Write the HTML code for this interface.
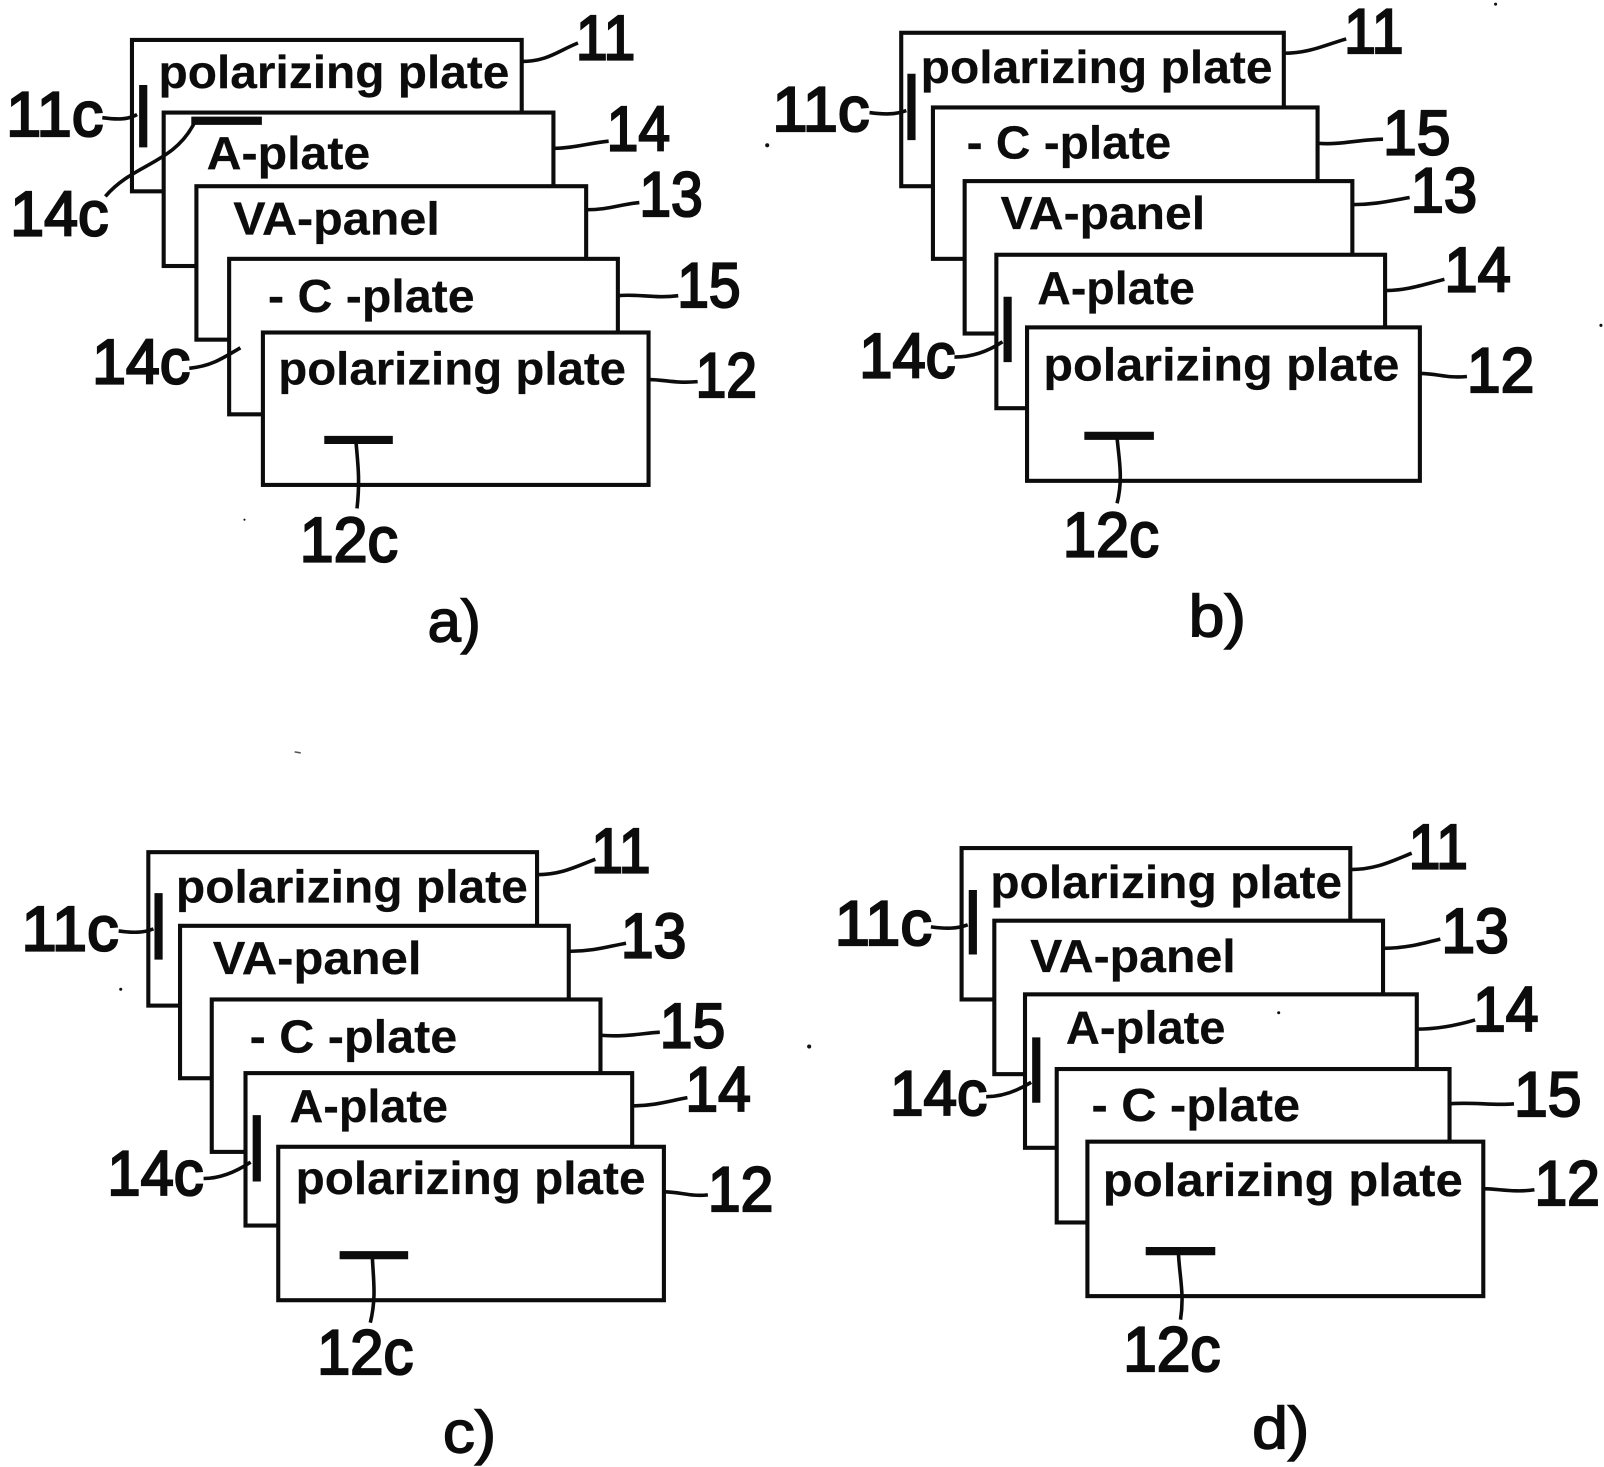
<!DOCTYPE html>
<html><head><meta charset="utf-8"><style>
html,body{margin:0;padding:0;background:#fff}
svg{display:block}
text{font-family:"Liberation Sans",sans-serif;font-weight:normal;fill:#0c0c0c}
.p{font-size:45px;font-weight:bold;stroke:#0c0c0c;stroke-width:.2px}
.n{font-size:62px;stroke:#0c0c0c;stroke-width:2.2px}
.s{font-size:58px;stroke:#0c0c0c;stroke-width:1.4px}
rect{fill:#fff;stroke:#0c0c0c;stroke-width:4}
.l{fill:none;stroke:#0c0c0c;stroke-width:3.5}
.b{fill:none;stroke:#0c0c0c;stroke-width:8;stroke-linecap:butt}
</style></head><body>
<svg width="1604" height="1467" viewBox="0 0 1568 1434" xmlns="http://www.w3.org/2000/svg">
<rect style="fill:#fff;stroke:none" x="0" y="0" width="1568" height="1434"/>

<!-- panel a -->
<rect x="129" y="39" width="381" height="148"/>
<line class="b" x1="140" y1="83" x2="140" y2="144"/>
<rect x="160" y="110" width="381" height="150"/>
<line class="b" x1="187" y1="118" x2="256" y2="118"/>
<rect x="192" y="182" width="381" height="150"/>
<rect x="224" y="253" width="380" height="152"/>
<rect x="257" y="325" width="377" height="149"/>
<line class="b" x1="317" y1="430" x2="384" y2="430"/>
<text class="p" x="155" y="86" textLength="343" lengthAdjust="spacingAndGlyphs">polarizing plate</text>
<text class="p" x="202" y="165" textLength="160" lengthAdjust="spacingAndGlyphs">A-plate</text>
<text class="p" x="228" y="229" textLength="202" lengthAdjust="spacingAndGlyphs">VA-panel</text>
<text class="p" x="262" y="305" textLength="202" lengthAdjust="spacingAndGlyphs">- C -plate</text>
<text class="p" x="272" y="376" textLength="340" lengthAdjust="spacingAndGlyphs">polarizing plate</text>
<path class="l" d="M510 60C535 60 545 50 565 42"/>
<path class="l" d="M541 145C560 145 575 140 595 138"/>
<path class="l" d="M573 205C595 205 605 200 625 198"/>
<path class="l" d="M604 289C625 287 640 292 663 289"/>
<path class="l" d="M634 371C650 371 660 375 682 373"/>
<path class="l" d="M100 115C115 117 125 117 134 112"/>
<path class="l" d="M190 120C170 160 130 160 103 192"/>
<path class="l" d="M185 360C205 358 215 352 235 340"/>
<path class="l" d="M348 432C350 455 352 470 349 497"/>
<text class="n" x="563" y="58" textLength="58" lengthAdjust="spacingAndGlyphs">11</text>
<text class="n" x="593" y="147" textLength="62" lengthAdjust="spacingAndGlyphs">14</text>
<text class="n" x="625" y="211" textLength="62" lengthAdjust="spacingAndGlyphs">13</text>
<text class="n" x="662" y="300" textLength="62" lengthAdjust="spacingAndGlyphs">15</text>
<text class="n" x="680" y="388" textLength="60" lengthAdjust="spacingAndGlyphs">12</text>
<text class="n" x="6" y="133" textLength="95" lengthAdjust="spacingAndGlyphs">11c</text>
<text class="n" x="10" y="230" textLength="96" lengthAdjust="spacingAndGlyphs">14c</text>
<text class="n" x="90" y="375" textLength="96" lengthAdjust="spacingAndGlyphs">14c</text>
<text class="n" x="293" y="549" textLength="96" lengthAdjust="spacingAndGlyphs">12c</text>
<text class="s" x="418" y="627" textLength="52" lengthAdjust="spacingAndGlyphs">a)</text>

<!-- panel b -->
<rect x="881" y="32" width="374" height="150"/>
<line class="b" x1="891" y1="72" x2="891" y2="137"/>
<rect x="912" y="105" width="376" height="148"/>
<rect x="943" y="177" width="379" height="149"/>
<rect x="974" y="249" width="380" height="150"/>
<line class="b" x1="985" y1="290" x2="985" y2="354"/>
<rect x="1004" y="320" width="384" height="150"/>
<line class="b" x1="1060" y1="426" x2="1128" y2="426"/>
<text class="p" x="900" y="81" textLength="344" lengthAdjust="spacingAndGlyphs">polarizing plate</text>
<text class="p" x="945" y="155" textLength="200" lengthAdjust="spacingAndGlyphs">- C -plate</text>
<text class="p" x="978" y="224" textLength="200" lengthAdjust="spacingAndGlyphs">VA-panel</text>
<text class="p" x="1014" y="297" textLength="154" lengthAdjust="spacingAndGlyphs">A-plate</text>
<text class="p" x="1020" y="372" textLength="348" lengthAdjust="spacingAndGlyphs">polarizing plate</text>
<path class="l" d="M1255 52C1280 52 1295 44 1316 38"/>
<path class="l" d="M1288 140C1310 142 1330 136 1352 136"/>
<path class="l" d="M1322 200C1345 200 1360 196 1378 193"/>
<path class="l" d="M1354 284C1375 284 1392 278 1412 273"/>
<path class="l" d="M1388 365C1405 365 1415 370 1434 368"/>
<path class="l" d="M850 110C865 112 875 112 886 108"/>
<path class="l" d="M933 349C950 349 965 344 980 334"/>
<path class="l" d="M1092 428C1094 450 1098 468 1092 492"/>
<text class="n" x="1314" y="52" textLength="58" lengthAdjust="spacingAndGlyphs">11</text>
<text class="n" x="1352" y="151" textLength="66" lengthAdjust="spacingAndGlyphs">15</text>
<text class="n" x="1379" y="207" textLength="65" lengthAdjust="spacingAndGlyphs">13</text>
<text class="n" x="1412" y="285" textLength="65" lengthAdjust="spacingAndGlyphs">14</text>
<text class="n" x="1434" y="383" textLength="66" lengthAdjust="spacingAndGlyphs">12</text>
<text class="n" x="755" y="128" textLength="95" lengthAdjust="spacingAndGlyphs">11c</text>
<text class="n" x="840" y="369" textLength="94" lengthAdjust="spacingAndGlyphs">14c</text>
<text class="n" x="1039" y="544" textLength="94" lengthAdjust="spacingAndGlyphs">12c</text>
<text class="s" x="1162" y="622" textLength="56" lengthAdjust="spacingAndGlyphs">b)</text>

<!-- panel c -->
<rect x="145" y="833" width="380" height="150"/>
<line class="b" x1="155" y1="873" x2="155" y2="938"/>
<rect x="176" y="905" width="380" height="149"/>
<rect x="207" y="977" width="380" height="149"/>
<rect x="240" y="1049" width="378" height="149"/>
<line class="b" x1="251" y1="1090" x2="251" y2="1155"/>
<rect x="272" y="1121" width="377" height="150"/>
<line class="b" x1="332" y1="1227" x2="399" y2="1227"/>
<text class="p" x="172" y="882" textLength="344" lengthAdjust="spacingAndGlyphs">polarizing plate</text>
<text class="p" x="208" y="952" textLength="204" lengthAdjust="spacingAndGlyphs">VA-panel</text>
<text class="p" x="244" y="1029" textLength="203" lengthAdjust="spacingAndGlyphs">- C -plate</text>
<text class="p" x="283" y="1097" textLength="155" lengthAdjust="spacingAndGlyphs">A-plate</text>
<text class="p" x="289" y="1167" textLength="342" lengthAdjust="spacingAndGlyphs">polarizing plate</text>
<path class="l" d="M525 855C550 855 565 846 582 840"/>
<path class="l" d="M556 930C580 930 595 925 612 922"/>
<path class="l" d="M587 1012C610 1014 628 1010 645 1009"/>
<path class="l" d="M618 1081C640 1081 655 1076 672 1073"/>
<path class="l" d="M649 1165C665 1165 675 1170 692 1168"/>
<path class="l" d="M116 910C130 912 140 912 150 908"/>
<path class="l" d="M199 1152C215 1152 230 1146 245 1136"/>
<path class="l" d="M364 1229C365 1252 368 1268 362 1293"/>
<text class="n" x="578" y="853" textLength="58" lengthAdjust="spacingAndGlyphs">11</text>
<text class="n" x="607" y="936" textLength="64" lengthAdjust="spacingAndGlyphs">13</text>
<text class="n" x="645" y="1024" textLength="64" lengthAdjust="spacingAndGlyphs">15</text>
<text class="n" x="670" y="1086" textLength="64" lengthAdjust="spacingAndGlyphs">14</text>
<text class="n" x="692" y="1184" textLength="64" lengthAdjust="spacingAndGlyphs">12</text>
<text class="n" x="21" y="929" textLength="95" lengthAdjust="spacingAndGlyphs">11c</text>
<text class="n" x="105" y="1168" textLength="94" lengthAdjust="spacingAndGlyphs">14c</text>
<text class="n" x="310" y="1343" textLength="94" lengthAdjust="spacingAndGlyphs">12c</text>
<text class="s" x="433" y="1420" textLength="52" lengthAdjust="spacingAndGlyphs">c)</text>

<!-- panel d -->
<rect x="940" y="829" width="380" height="148"/>
<line class="b" x1="951" y1="870" x2="951" y2="933"/>
<rect x="972" y="900" width="380" height="150"/>
<rect x="1002" y="972" width="383" height="150"/>
<line class="b" x1="1013" y1="1014" x2="1013" y2="1078"/>
<rect x="1033" y="1045" width="384" height="150"/>
<rect x="1063" y="1116" width="387" height="151"/>
<line class="b" x1="1120" y1="1223" x2="1188" y2="1223"/>
<text class="p" x="968" y="878" textLength="344" lengthAdjust="spacingAndGlyphs">polarizing plate</text>
<text class="p" x="1007" y="950" textLength="201" lengthAdjust="spacingAndGlyphs">VA-panel</text>
<text class="p" x="1042" y="1020" textLength="156" lengthAdjust="spacingAndGlyphs">A-plate</text>
<text class="p" x="1067" y="1096" textLength="204" lengthAdjust="spacingAndGlyphs">- C -plate</text>
<text class="p" x="1078" y="1169" textLength="352" lengthAdjust="spacingAndGlyphs">polarizing plate</text>
<path class="l" d="M1320 850C1345 850 1360 842 1380 834"/>
<path class="l" d="M1352 927C1375 927 1392 922 1408 918"/>
<path class="l" d="M1385 1006C1405 1006 1425 1002 1442 997"/>
<path class="l" d="M1417 1079C1440 1077 1460 1081 1480 1079"/>
<path class="l" d="M1450 1162C1465 1162 1480 1166 1500 1163"/>
<path class="l" d="M910 906C925 908 935 908 946 904"/>
<path class="l" d="M964 1072C980 1072 995 1066 1008 1058"/>
<path class="l" d="M1152 1225C1153 1248 1158 1265 1154 1290"/>
<text class="n" x="1377" y="849" textLength="58" lengthAdjust="spacingAndGlyphs">11</text>
<text class="n" x="1409" y="931" textLength="66" lengthAdjust="spacingAndGlyphs">13</text>
<text class="n" x="1440" y="1008" textLength="64" lengthAdjust="spacingAndGlyphs">14</text>
<text class="n" x="1480" y="1091" textLength="66" lengthAdjust="spacingAndGlyphs">15</text>
<text class="n" x="1500" y="1178" textLength="64" lengthAdjust="spacingAndGlyphs">12</text>
<text class="n" x="816" y="924" textLength="95" lengthAdjust="spacingAndGlyphs">11c</text>
<text class="n" x="870" y="1090" textLength="95" lengthAdjust="spacingAndGlyphs">14c</text>
<text class="n" x="1098" y="1340" textLength="95" lengthAdjust="spacingAndGlyphs">12c</text>
<text class="s" x="1224" y="1416" textLength="56" lengthAdjust="spacingAndGlyphs">d)</text>

<!-- specks -->
<circle cx="750" cy="142" r="2" fill="#111"/>
<circle cx="239" cy="508" r="1" fill="#111"/>
<circle cx="791" cy="1023" r="2" fill="#111"/>
<circle cx="118" cy="967" r="1.5" fill="#111"/>
<circle cx="1250" cy="990" r="1.5" fill="#111"/>
<circle cx="1462" cy="4" r="1.5" fill="#111"/>
<circle cx="1565" cy="318" r="1.5" fill="#111"/>
<line x1="288" y1="735" x2="294" y2="736" stroke="#555" stroke-width="1.5"/>
</svg>
</body></html>
